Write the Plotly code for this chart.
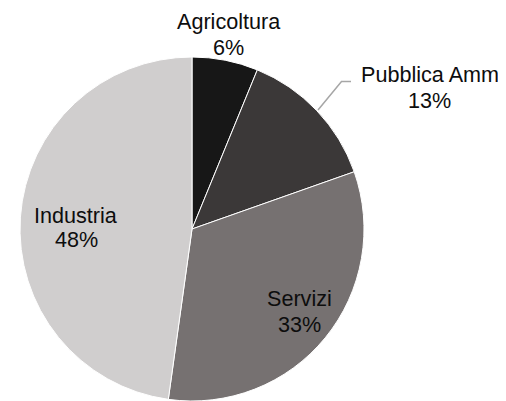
import plotly.graph_objects as go

# ---- data ----
labels = ["Agricoltura", "Pubblica Amm", "Servizi", "Industria"]
values = [6.2, 13.4, 32.6, 47.8]
colors = ["#171717", "#3b3838", "#767171", "#d0cece"]

# page body has an 8px margin: the figure starts at (8, 8)
OFF = 8
W, H = 506 - OFF, 401 - OFF
CX, CY, R = 192, 229, 172

def px(x):
    return (x - OFF) / W

def py(y):
    return 1 - (y - OFF) / H

fig = go.Figure(go.Pie(
    labels=labels,
    values=values,
    sort=False,
    direction="clockwise",
    rotation=0,
    marker=dict(colors=colors, line=dict(color="white", width=1)),
    textinfo="none",
    hoverinfo="label+percent",
    showlegend=False,
    domain=dict(x=[px(CX - R), px(CX + R)], y=[max(0, py(CY + R)), py(CY - R)]),
))

total = sum(values)
pcts = [f"{round(v / total * 100)}%" for v in values]

# label line-center positions (pixels): (x, y_name, y_pct)
label_pos = [
    (228.5, 21.5, 47.0),
    (429.5, 74.5, 100.0),
    (299.5, 298.5, 324.0),
    (76.0, 215.5, 240.0),
]

font = dict(family="Liberation Sans, Arial, sans-serif", size=21.6, color="#0d0d0d")
annotations = []
for name, pct, (x, y1, y2) in zip(labels, pcts, label_pos):
    annotations.append(dict(x=px(x), y=py(y1), xref="paper", yref="paper", text=name,
                            showarrow=False, xanchor="center", yanchor="middle", font=font))
    annotations.append(dict(x=px(x), y=py(y2), xref="paper", yref="paper", text=pct,
                            showarrow=False, xanchor="center", yanchor="middle", font=font))

# leader line for Pubblica Amm
shapes = [dict(type="path", xref="paper", yref="paper",
               path=f"M {px(318)} {py(110)} L {px(341.5)} {py(81.5)} L {px(351)} {py(81.5)}",
               line=dict(color="#a6a6a6", width=1.5))]

fig.update_layout(
    width=W, height=H,
    margin=dict(l=0, r=0, t=0, b=0),
    paper_bgcolor="white", plot_bgcolor="white",
    annotations=annotations,
    shapes=shapes,
)

fig.write_html("out.html")
